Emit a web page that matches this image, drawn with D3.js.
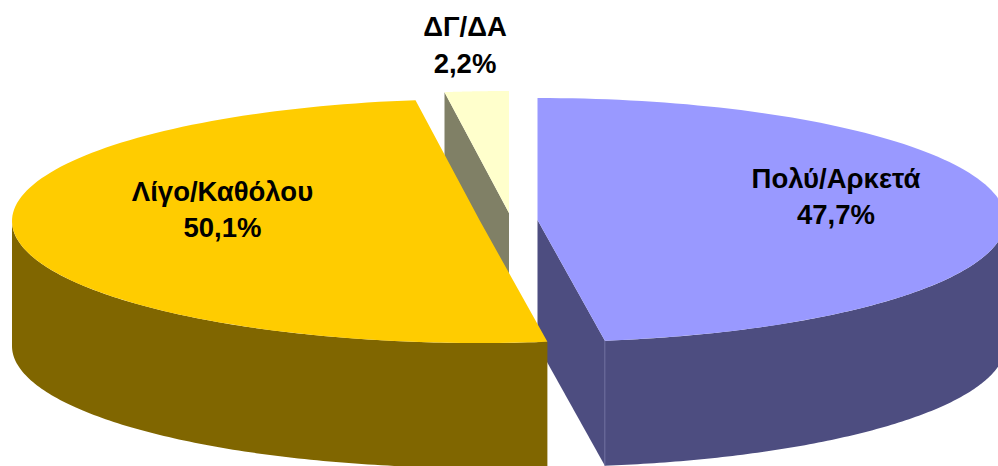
<!DOCTYPE html>
<html><head><meta charset="utf-8">
<script src="https://cdn.jsdelivr.net/npm/d3@7"></script>
<style>html,body{margin:0;padding:0;background:#fff}svg{display:block}
text{font-family:"Liberation Sans",Arial,sans-serif;font-weight:bold;font-size:27.5px;fill:#000;text-anchor:middle}</style>
</head><body><svg id="c" width="998" height="466"></svg>
<script>
const categories = ["Πολύ/Αρκετά", "Λίγο/Καθόλου", "ΔΓ/ΔΑ"];
const values = [47.7, 50.1, 2.2];
const valueLabels = ["47,7%", "50,1%", "2,2%"];
const topColors = ["#9999FF", "#FFCC00", "#FFFFCC"];
const wallColors = ["#4D4D80", "#806600", "#808066"];
const centers = [[537.5, 220], [480, 221], [509, 213]];
const labelPos = [[836, 188, 224], [222.5, 201, 237], [465, 36, 73]];

const W = 998, H = 466, RX = 468, RY = 122, DEPTH = 125;
const svg = d3.select("#c");
const slices = d3.pie().sort(null).value(d => d)(values);

const sx = d3.scaleLinear().domain([-1, 1]).range([-RX, RX]);
const sy = d3.scaleLinear().domain([-1, 1]).range([-RY, RY]);
const line = d3.line();
const pt = (i, a, dz = 0) => [centers[i][0] + sx(Math.sin(a)), centers[i][1] - sy(Math.cos(a)) + dz];
const arcPts = (i, a0, a1, dz = 0) => d3.range(0, 121).map(k => pt(i, a0 + (a1 - a0) * k / 120, dz));
const ctr = (i, dz = 0) => [centers[i][0], centers[i][1] + dz];

function topFace(i) {
  const s = slices[i];
  svg.append("path").attr("d", line([ctr(i), ...arcPts(i, s.startAngle, s.endAngle)]) + "Z").attr("fill", topColors[i]);
}
function outerWall(i) {
  const s = slices[i];
  const a0 = Math.max(s.startAngle, Math.PI / 2), a1 = Math.min(s.endAngle, Math.PI * 1.5);
  if (a1 <= a0) return;
  const pts = [...arcPts(i, a0, a1), ...arcPts(i, a1, a0, DEPTH)];
  svg.append("path").attr("d", line(pts) + "Z").attr("fill", wallColors[i]);
}
function radialWall(i, a) {
  const pts = [ctr(i), pt(i, a), pt(i, a, DEPTH), ctr(i, DEPTH)];
  svg.append("path").attr("d", line(pts) + "Z").attr("fill", wallColors[i]);
}

// back to front
radialWall(2, slices[2].startAngle);
topFace(2);
radialWall(0, slices[0].endAngle);
outerWall(0);
const e = pt(0, slices[0].endAngle);
svg.append("path").attr("d", line([e, pt(0, slices[0].endAngle, DEPTH)])).attr("stroke", "#6C6C9C").attr("stroke-width", 1).attr("fill", "none");
topFace(0);
outerWall(1);
topFace(1);

categories.forEach((c, i) => {
  svg.append("text").attr("x", labelPos[i][0]).attr("y", labelPos[i][1]).text(c);
  svg.append("text").attr("x", labelPos[i][0]).attr("y", labelPos[i][2]).text(valueLabels[i]);
});
</script></body></html>
